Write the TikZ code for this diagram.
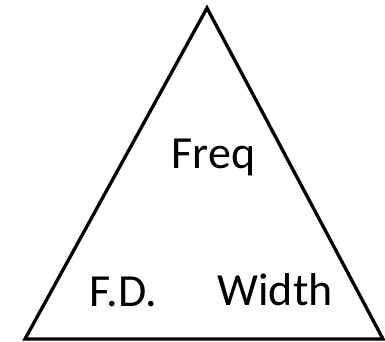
\documentclass[tikz,border=0pt]{standalone}
\usepackage{fontspec}
\setmainfont{Carlito}
\begin{document}
\begin{tikzpicture}[x=1pt,y=-1pt,
  lbl/.style={anchor=base,inner sep=0pt,font=\fontsize{46}{48}\selectfont}]
\useasboundingbox (0,0) rectangle (385,342);
\coordinate (top) at (207,8);
\coordinate (bl) at (25,339);
\coordinate (br) at (383,339);
\draw[line width=3.3pt,line join=miter] (top) -- (br) -- (bl) -- cycle;
\node[lbl] (freq) at (213.5,168) {Freq};
\node[lbl] (fd) at (123.5,306) {F.D.};
\node[lbl] (width) at (275,305) {Width};
\end{tikzpicture}
\end{document}
